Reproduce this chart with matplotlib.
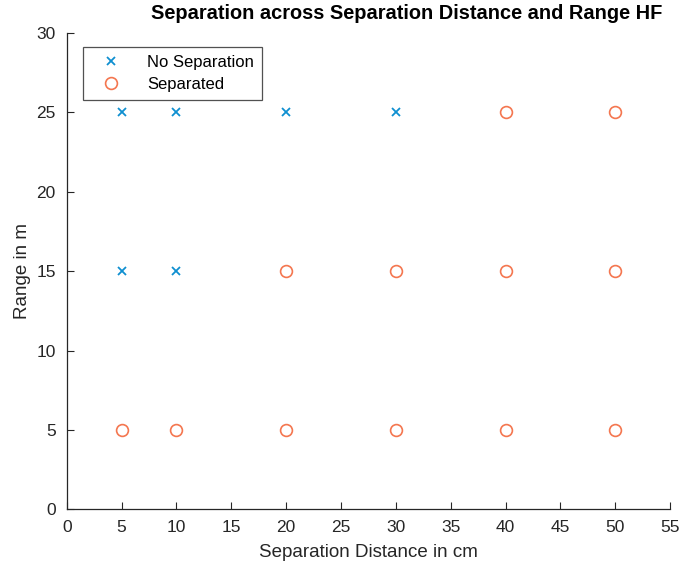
import numpy as np
import matplotlib.pyplot as plt

plt.rcParams['font.family'] = ['Liberation Sans', 'DejaVu Sans']

# points where the two sources could not be told apart
no_sep_x = [5, 10, 20, 30, 5, 10]
no_sep_y = [25, 25, 25, 25, 15, 15]

# points where separation was achieved
sep_x = [40, 50, 20, 30, 40, 50, 5, 10, 20, 30, 40, 50]
sep_y = [25, 25, 15, 15, 15, 15, 5, 5, 5, 5, 5, 5]

xticks = np.arange(0, 56, 5)
yticks = np.arange(0, 31, 5)


def main():
    fig = plt.figure(figsize=(6.81, 5.69), dpi=100)
    ax = fig.add_axes([0.098, 0.105, 0.886, 0.837])

    ax.plot(no_sep_x, no_sep_y, 'x', color='#0F8FD0', markersize=6,
            markeredgewidth=1.3, label='No Separation')
    ax.plot(sep_x, sep_y, 'o', color='#F4764F', markersize=8.5,
            markerfacecolor='none', markeredgewidth=1.2, label='Separated')

    ax.set_xlim(0, 55)
    ax.set_ylim(0, 30)
    ax.set_xticks(xticks)
    ax.set_yticks(yticks)
    ax.tick_params(direction='in', length=5, width=0.8, labelsize=12.5,
                   colors='#262626', pad=8)
    ax.spines['top'].set_visible(False)
    ax.spines['right'].set_visible(False)
    for s in ['left', 'bottom']:
        ax.spines[s].set_color('#262626')
        ax.spines[s].set_linewidth(0.9)

    ax.set_xlabel('Separation Distance in cm', fontsize=13.5, color='#262626',
                  labelpad=6)
    ax.set_ylabel('Range in m', fontsize=13.5, color='#262626')
    fig.text(0.597, 0.976, 'Separation across Separation Distance and Range HF',
             fontsize=14.4, fontweight='bold', ha='center', va='center')

    leg = ax.legend(loc='upper left', bbox_to_anchor=(0.027, 0.97),
                    fontsize=12, fancybox=False, frameon=True,
                    borderpad=0.45, handlelength=2.4, handletextpad=1.0,
                    labelspacing=0.45, borderaxespad=0)
    leg.get_frame().set_edgecolor('#262626')
    leg.get_frame().set_linewidth(0.9)

    fig.savefig('out.png', dpi=100)


if __name__ == '__main__':
    main()
